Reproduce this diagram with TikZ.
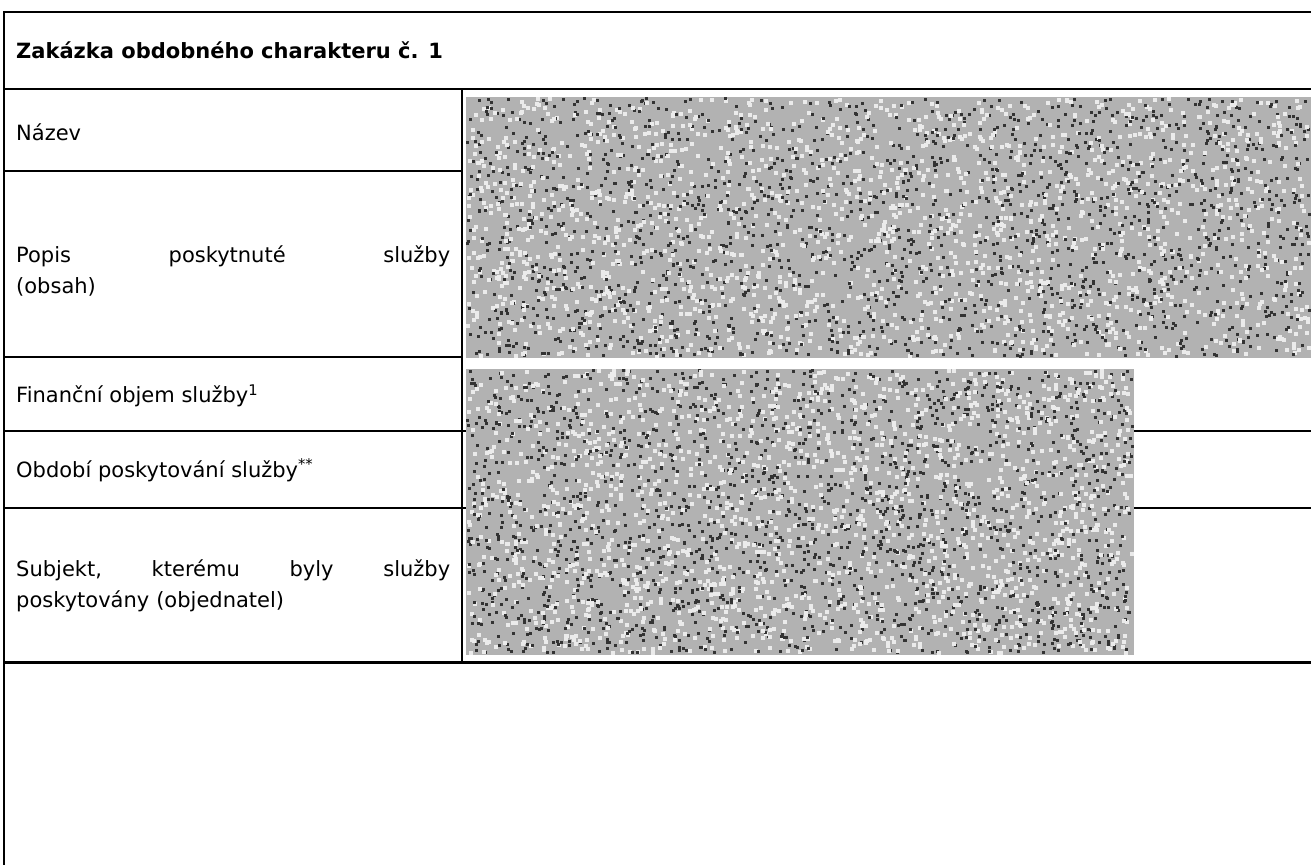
\documentclass[tikz,border=0pt]{standalone}
\usepackage{fontspec}
\setmainfont{DejaVu Sans}
\newcommand{\noisefill}[4]{%
  \fill[black!30] (#1,#2) rectangle (#3,#4);
  \foreach \k in {1,...,1800}{%
    \pgfmathsetmacro{\nx}{#1+rnd*(#3-#1-4)}%
    \pgfmathsetmacro{\ny}{#2+rnd*(#4-#2-4)}%
    \fill[white!92!black] (\nx,\ny) rectangle ++(4,4);
    \pgfmathsetmacro{\mx}{#1+rnd*(#3-#1-3)}%
    \pgfmathsetmacro{\my}{#2+rnd*(#4-#2-3)}%
    \fill[black!80] (\mx,\my) rectangle ++(3,3);
  }}

\begin{document}
\begin{tikzpicture}[x=1pt,y=-1pt,
    label/.style = {anchor=west, inner sep=0pt, font=\fontsize{21}{31}\selectfont},
    rule/.style = {line width=1.8pt, black}]
  \useasboundingbox (0,0) rectangle (1311,865);
  \pgfmathsetseed{42}
  % redacted blocks
  \noisefill{466}{97}{1311}{358}
  \noisefill{466}{369}{1134}{655}
  % frame
  \draw[rule] (1311,12) -- (4,12) -- (4,865);
  \draw[rule] (4,89) -- (1311,89);
  \draw[rule] (4,171) -- (462,171);
  \draw[rule] (4,357) -- (462,357);
  \draw[rule] (4,431) -- (466,431) (1134,431) -- (1311,431);
  \draw[rule] (4,508) -- (466,508) (1134,508) -- (1311,508);
  \draw[line width=3pt] (4,662) -- (1311,662);
  \draw[rule] (462,89) -- (462,662);
  % texts
  \node[label, font=\fontsize{21}{31}\selectfont\bfseries] (head) at (16,50) {Zakázka obdobného charakteru č. 1};
  \node[label] (nazev) at (16,132) {Název};
  \node[label, text width=434pt] (popis) at (16,271) {Popis \hfill poskytnuté \hfill služby\\(obsah)};
  \node[label] (objem) at (16,396) {Finanční objem služby\textsuperscript{1}};
  \node[label] (obdobi) at (16,470) {Období poskytování služby\textsuperscript{**}};
  \node[label, text width=434pt] (subjekt) at (16,586) {Subjekt, \hfill kterému \hfill byly \hfill služby\\poskytovány (objednatel)};
\end{tikzpicture}
\end{document}
